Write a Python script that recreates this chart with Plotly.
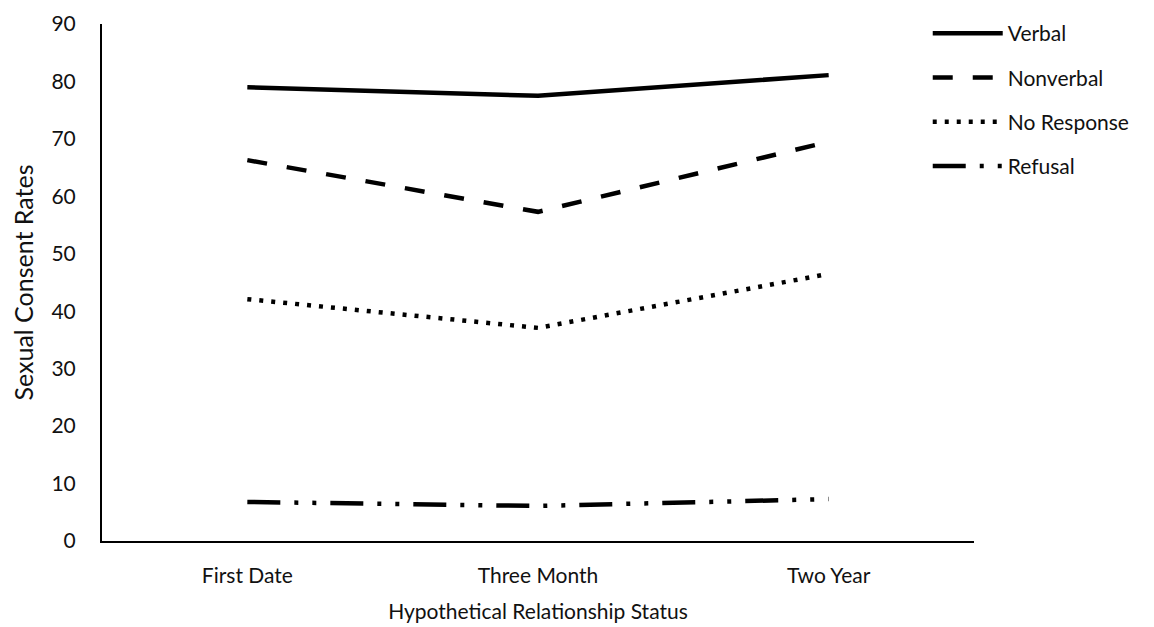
import plotly.graph_objects as go

categories = ["First Date", "Three Month", "Two Year"]
verbal = [79.0, 77.5, 81.1]
nonverbal = [66.3, 57.3, 69.5]
no_response = [42.1, 37.1, 46.5]
refusal = [6.8, 6.1, 7.3]
y_ticks = [0, 10, 20, 30, 40, 50, 60, 70, 80, 90]

series = [
    ("Verbal", verbal, "solid"),
    ("Nonverbal", nonverbal, "20px,20px"),
    ("No Response", no_response, "4px,8px"),
    ("Refusal", refusal, "33px,14px,4px,14px,4px,14px"),
]

FONT = "Lato, 'Open Sans', sans-serif"
fig = go.Figure()
for i, (name, vals, dash) in enumerate(series):
    fig.add_trace(go.Scatter(
        x=categories, y=vals, name=name, mode="lines",
        line=dict(color="black", width=4.5, dash=dash),
        legendgroup=f"g{i}",
    ))

fig.update_layout(
    width=1154, height=627,
    margin=dict(l=94, r=188, t=16, b=94, autoexpand=False),
    plot_bgcolor="white", paper_bgcolor="white",
    font=dict(family=FONT, size=21, color="#111"),
    showlegend=True,
    legend=dict(xref="container", yref="container",
                x=0.797, xanchor="left", y=0.992, yanchor="top",
                itemwidth=70, tracegroupgap=14,
                font=dict(size=21, family=FONT, color="#111"),
                bgcolor="rgba(0,0,0,0)"),
    xaxis=dict(type="category", range=[-0.5, 2.5], showline=True,
               linecolor="black", linewidth=2, showgrid=False,
               ticks="", ticklabelstandoff=15, automargin=False,
               title=dict(text="Hypothetical Relationship Status", standoff=18,
                          font=dict(size=21))),
    yaxis=dict(range=[0, 90], tickvals=y_ticks, showline=True,
               linecolor="black", linewidth=2, showgrid=False, zeroline=False,
               ticks="", ticklabelstandoff=20, automargin=False,
               title=dict(text="Sexual Consent Rates", standoff=18,
                          font=dict(size=25))),
)

fig.write_html("out.html")
